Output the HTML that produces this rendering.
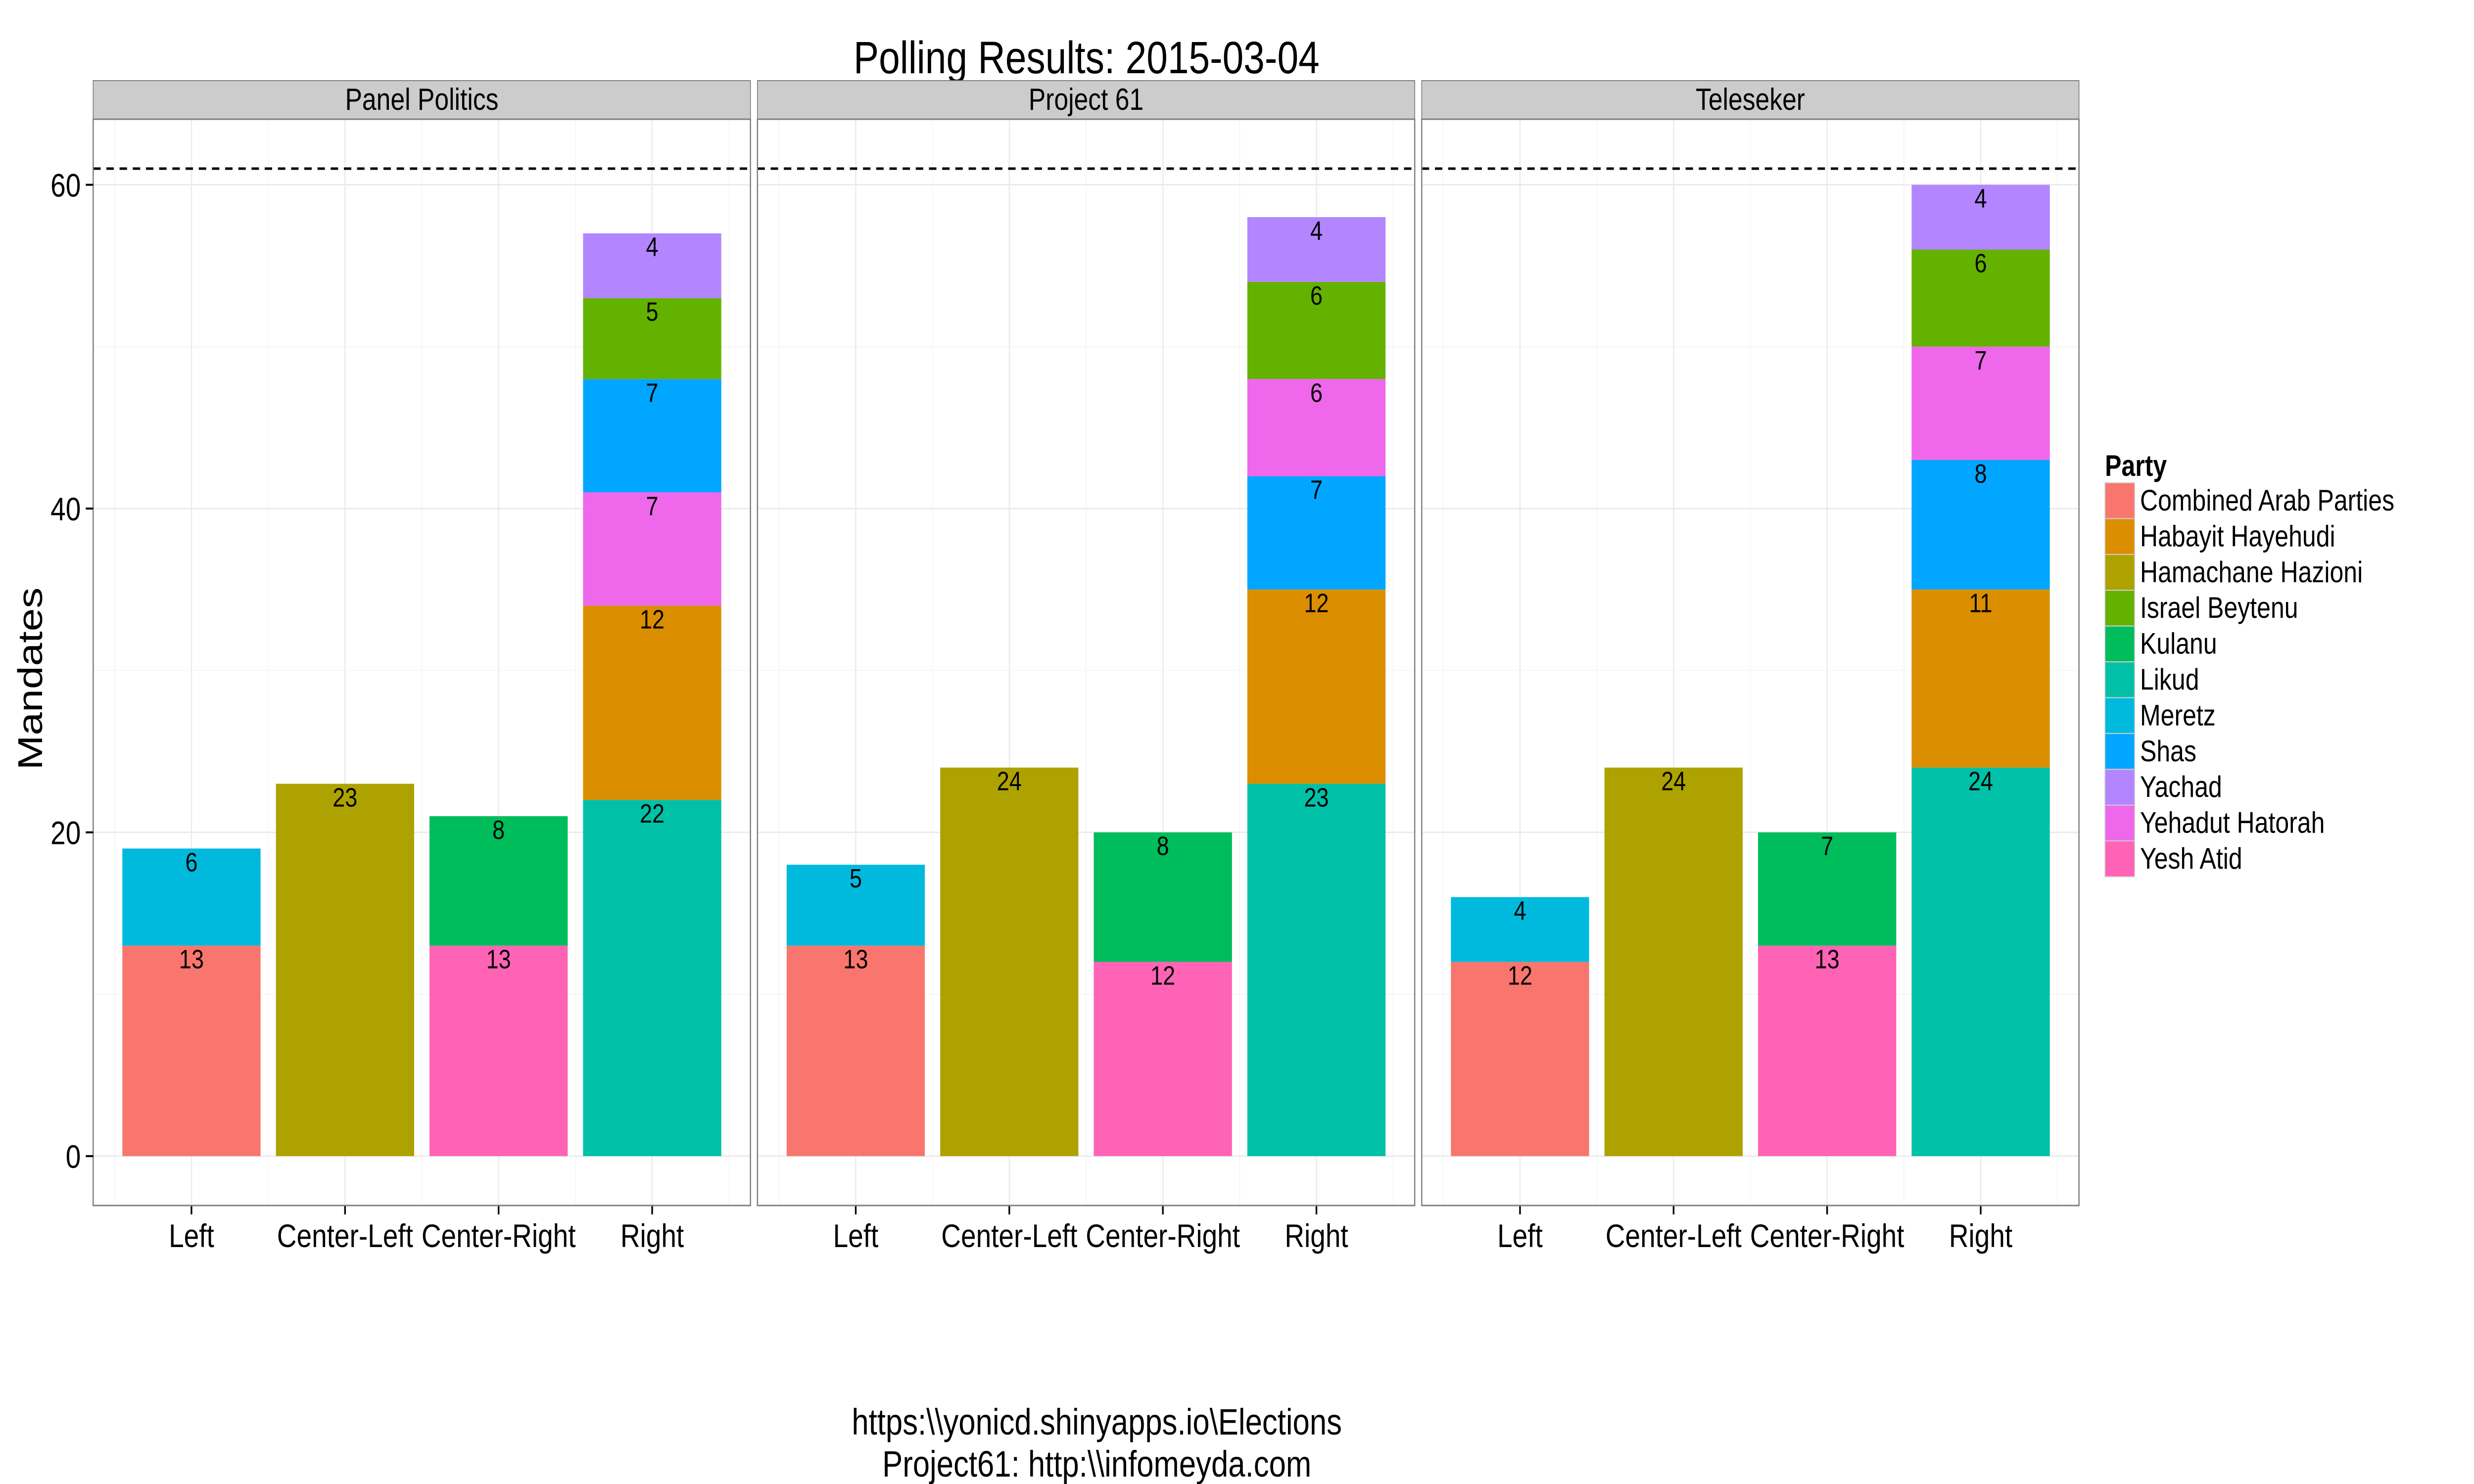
<!DOCTYPE html>
<html><head><meta charset="utf-8"><style>
html,body{margin:0;padding:0;background:#fff;width:100%;height:100%;overflow:hidden;}
svg{display:block;width:100vw;height:100vh;font-family:"Liberation Sans",Arial,sans-serif;}
</style></head><body>
<svg id="chart" viewBox="0 0 6000 3000" preserveAspectRatio="none" xmlns="http://www.w3.org/2000/svg">
<text x="2635" y="148" font-size="92" text-anchor="middle">Polling Results: 2015-03-04</text>
<text transform="translate(102,1372) rotate(-90)" font-size="84" text-anchor="middle">Mandates</text>
<text x="2660" y="2900" font-size="74" text-anchor="middle">https:\\yonicd.shinyapps.io\Elections</text>
<text x="2660" y="2985" font-size="74" text-anchor="middle">Project61: http:\\infomeyda.com</text>
<g id="panels"></g>
<g id="legend"></g>
</svg>
<script>
const categories = ["Left","Center-Left","Center-Right","Right"];
const pollsters = ["Panel Politics","Project 61","Teleseker"];
const parties = ["Combined Arab Parties","Habayit Hayehudi","Hamachane Hazioni","Israel Beytenu","Kulanu","Likud","Meretz","Shas","Yachad","Yehadut Hatorah","Yesh Atid"];
const partyColors = ["#F8766D","#DB8E00","#AEA200","#64B200","#00BD5C","#00C1A7","#00BADE","#00A6FF","#B385FF","#EF67EB","#FF63B6"];
// stacks bottom-to-top: [category, party, seats]
const panelPolitics = [
 ["Left","Combined Arab Parties",13],["Left","Meretz",6],
 ["Center-Left","Hamachane Hazioni",23],
 ["Center-Right","Yesh Atid",13],["Center-Right","Kulanu",8],
 ["Right","Likud",22],["Right","Habayit Hayehudi",12],["Right","Yehadut Hatorah",7],["Right","Shas",7],["Right","Israel Beytenu",5],["Right","Yachad",4]];
const project61 = [
 ["Left","Combined Arab Parties",13],["Left","Meretz",5],
 ["Center-Left","Hamachane Hazioni",24],
 ["Center-Right","Yesh Atid",12],["Center-Right","Kulanu",8],
 ["Right","Likud",23],["Right","Habayit Hayehudi",12],["Right","Shas",7],["Right","Yehadut Hatorah",6],["Right","Israel Beytenu",6],["Right","Yachad",4]];
const teleseker = [
 ["Left","Combined Arab Parties",12],["Left","Meretz",4],
 ["Center-Left","Hamachane Hazioni",24],
 ["Center-Right","Yesh Atid",13],["Center-Right","Kulanu",7],
 ["Right","Likud",24],["Right","Habayit Hayehudi",11],["Right","Shas",8],["Right","Yehadut Hatorah",7],["Right","Israel Beytenu",6],["Right","Yachad",4]];
const yTicks = [0,20,40,60];
const majorityLine = 61;
const panelData = [panelPolitics, project61, teleseker];

const NS="http://www.w3.org/2000/svg";
function mk(tag, attrs, parent){const e=document.createElementNS(NS,tag);for(const k in attrs)e.setAttribute(k,attrs[k]);parent.appendChild(e);return e;}
const yMin=-3.05, yMax=64.05, plotTop=241, plotBot=2437;
function yS(v){return plotBot-(v-yMin)/(yMax-yMin)*(plotBot-plotTop);}
const panelLeft0=226, panelW=1594, gap=17, expand=0.64;
const unit=panelW/(categories.length-1+2*expand);
const panelsG=document.getElementById('panels');
pollsters.forEach((p,pi)=>{
  const px=panelLeft0+pi*(panelW+gap);
  function xS(ci){return px+(expand+ci)*unit;}
  const g=mk('g',{},panelsG);
  
  
  const strip=mk('rect',{x:px,y:163,width:panelW,height:plotTop-163,fill:'#cccccc',stroke:'#7f7f7f','stroke-width':2},g);
  
  
  const st=mk('text',{x:px+panelW/2,y:222,'font-size':62,'text-anchor':'middle'},g);
  st.textContent=p;
  
  
  for(let v=10; v<yMax; v+=20){mk('line',{x1:px,x2:px+panelW,y1:yS(v),y2:yS(v),stroke:'#f5f5f5','stroke-width':2},g);}
  for(let ci=-0.5; ci<categories.length; ci+=1){mk('line',{x1:xS(ci),x2:xS(ci),y1:plotTop,y2:plotBot,stroke:'#f5f5f5','stroke-width':2},g);}
  yTicks.forEach(t=>{const l=mk('line',{x1:px,x2:px+panelW,y1:yS(t),y2:yS(t),stroke:'#ebebeb','stroke-width':3},g);
    
    });
  categories.forEach((c,ci)=>{mk('line',{x1:xS(ci),x2:xS(ci),y1:plotTop,y2:plotBot,stroke:'#ebebeb','stroke-width':3},g);
    mk('line',{x1:xS(ci),x2:xS(ci),y1:plotBot,y2:plotBot+18,stroke:'#000','stroke-width':4},g);
    const xl=mk('text',{x:xS(ci),y:2521,'font-size':66,'text-anchor':'middle'},g);
    xl.textContent=c;
    
    });
  const cum={};
  panelData[pi].forEach(([cat,party,v])=>{
    const ci=categories.indexOf(cat);
    const base=cum[cat]||0; cum[cat]=base+v;
    const bw=0.9*unit;
    const r=mk('rect',{x:xS(ci)-bw/2,y:yS(base+v),width:bw,height:yS(base)-yS(base+v),fill:partyColors[parties.indexOf(party)]},g);
    
    
    const t=mk('text',{x:xS(ci),y:yS(base+v)+46,'font-size':54,'text-anchor':'middle'},g);
    t.textContent=v;
    
    
  });
  const dl=mk('line',{x1:px,x2:px+panelW,y1:yS(majorityLine),y2:yS(majorityLine),stroke:'#000','stroke-width':5,'stroke-dasharray':'18 14'},g);
  
  
  const border=mk('rect',{x:px,y:plotTop,width:panelW,height:plotBot-plotTop,fill:'none',stroke:'#7f7f7f','stroke-width':3},g);
  
  
  if(pi===0){
    yTicks.forEach(t=>{mk('line',{x1:px-18,x2:px,y1:yS(t),y2:yS(t),stroke:'#000','stroke-width':4},g);
      const yl=mk('text',{x:px-30,y:yS(t)+24,'font-size':66,'text-anchor':'end'},g);
      yl.textContent=t;
      
      });
  }
});
const lg=document.getElementById('legend');
const lt=mk('text',{x:5105,y:962,'font-size':60,'font-weight':'bold'},lg);
lt.textContent='Party';


parties.forEach((p,i)=>{
  const y=976+i*72.4;
  const k=mk('rect',{x:5105,y:y,width:72,height:72.4,fill:partyColors[i],stroke:'#d0d0d0','stroke-width':2},lg);
  
  
  const t=mk('text',{x:5190,y:y+56,'font-size':60},lg);
  t.textContent=p;
  
  
});
</script>
</body></html>
